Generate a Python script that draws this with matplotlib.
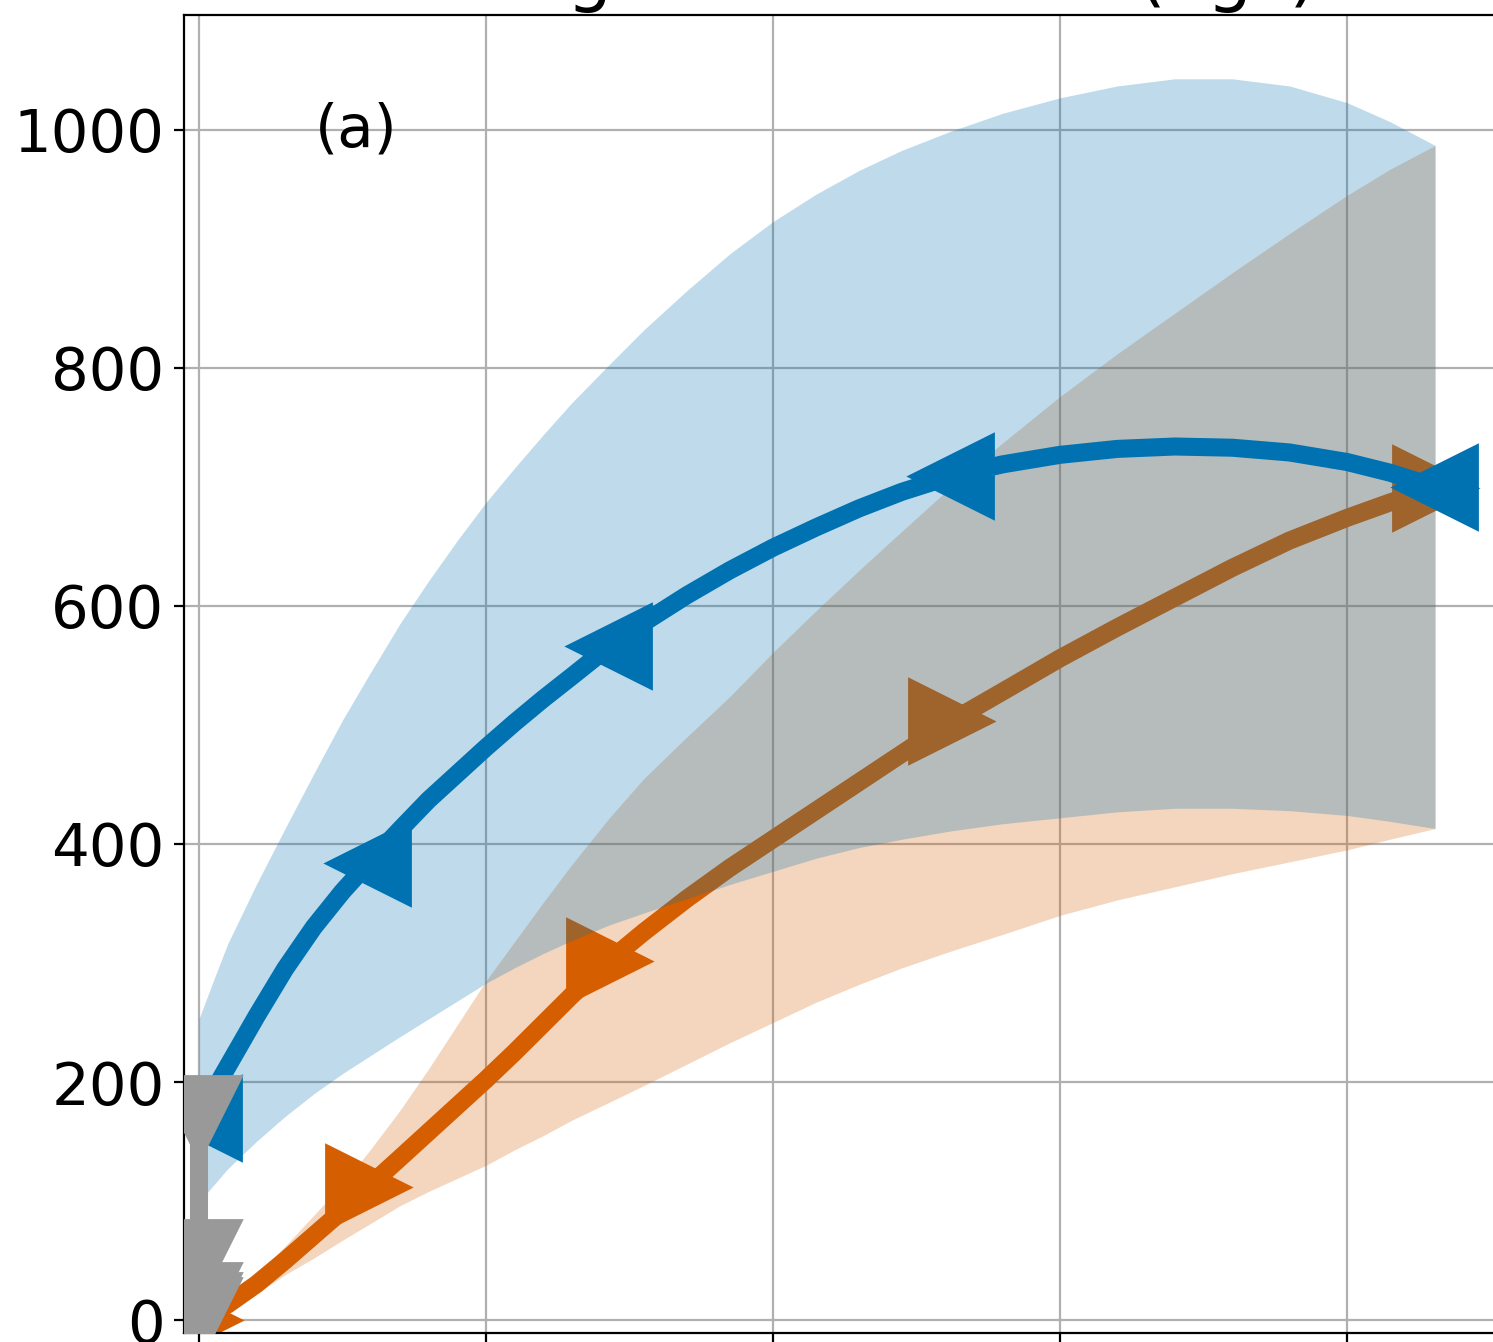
import numpy as np
import matplotlib
matplotlib.use("Agg")
import matplotlib.pyplot as plt

# shared x grid (markers sit at x = 0, 0.59, 1.43, 2.62, 4.307)
x = [0, 0.05, 0.1, 0.2, 0.3, 0.4, 0.5, 0.59, 0.7, 0.8, 0.9, 1.0, 1.1, 1.2, 1.3, 1.43,
     1.55, 1.7, 1.85, 2.0, 2.15, 2.3, 2.45, 2.62, 2.8, 3.0, 3.2, 3.4, 3.6, 3.8, 4.0,
     4.15, 4.307]
mark_idx = [0, 7, 15, 23, 32]

# blue series: mean and band
blue_mean = [170, 192, 213, 255, 295, 330, 360, 384, 412, 437, 459, 481, 502, 522, 541, 566,
             586, 609, 630, 649, 666, 682, 696, 709, 719, 727, 732, 734, 733, 729, 721,
             712, 700]
blue_hi = [253, 285, 316, 366, 413, 459, 504, 541, 585, 621, 655, 687, 716, 744, 771, 803,
           832, 865, 896, 923, 946, 966, 983, 999, 1014, 1027, 1037, 1043, 1043, 1037, 1023,
           1007, 987]
blue_lo = [99, 113, 127, 150, 171, 190, 207, 221, 238, 253, 268, 283, 296, 308, 319, 332,
           342, 354, 366, 377, 388, 397, 404, 411, 417, 422, 427, 430, 430, 428, 424,
           419, 413]

# orange series: mean and band
orange_mean = [0, 6, 13, 30, 50, 71, 92, 112, 136, 158, 180, 202, 225, 249, 273, 302,
               326, 354, 380, 404, 428, 452, 476, 503, 528, 556, 582, 607, 632, 655, 674,
               687, 699]
orange_hi = [0, 6, 14, 38, 62, 88, 114, 141, 176, 211, 248, 285, 318, 351, 383, 422,
             455, 490, 524, 561, 596, 630, 663, 700, 737, 776, 812, 846, 880, 913, 945,
             967, 987]
orange_lo = [0, 4, 9, 22, 38, 52, 67, 80, 96, 108, 119, 130, 143, 155, 168, 183,
             197, 215, 233, 250, 267, 282, 296, 310, 324, 340, 353, 364, 375, 385, 395,
             404, 413]

# grey series (all at x = 0)
grey_x = [0, 0, 0, 0, 0]
grey_y = [170, 49, 13, 4, 0]

BLUE = '#0072B2'
ORANGE = '#D55E00'
GREY = '#999999'

fig = plt.figure(figsize=(7.465, 6.71), dpi=200)
ax = fig.add_axes([0.12324, 0.006706, 0.8789, 0.98212])
ax.set_axisbelow(True)
ax.grid(True)

lw = 6.5
ms = 30.5

ax.fill_between(x, orange_lo, orange_hi, color=ORANGE, alpha=0.25, linewidth=0, zorder=1)
ax.plot(x, orange_mean, color=ORANGE, lw=lw, marker='>', ms=ms, markevery=mark_idx, zorder=2)

ax.fill_between(x, blue_lo, blue_hi, color=BLUE, alpha=0.25, linewidth=0, zorder=3)
ax.plot(x, blue_mean, color=BLUE, lw=lw, marker='<', ms=ms, markevery=mark_idx, zorder=4)

ax.plot(grey_x, grey_y, color=GREY, lw=lw, marker='v', ms=ms, zorder=5)

ax.set_xlim(-0.052, 4.52)
ax.set_ylim(-10.9, 1096.6)
ax.set_xticks([0, 1, 2, 3, 4])
ax.set_yticks([0, 200, 400, 600, 800, 1000])
ax.tick_params(labelsize=21.4)
ax.tick_params(axis='x', labelbottom=False)  # labels fall below the visible area

ax.text(0.1, 0.9, '(a)', transform=ax.transAxes, fontsize=21.4)
ax.set_title('Average stored mass (kgs)', fontsize=25.7)

fig.savefig('out.png', dpi=200)
